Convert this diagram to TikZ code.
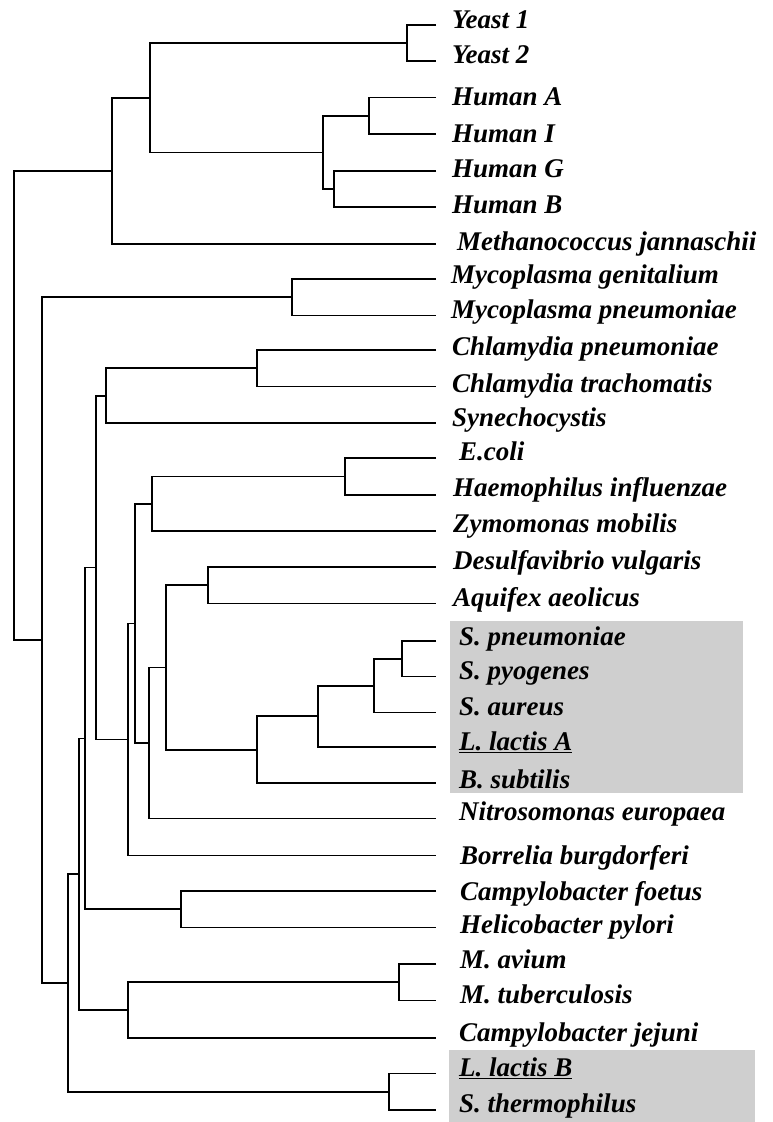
\documentclass[tikz,border=0pt]{standalone}
\usepackage{fontspec}
\setmainfont{Liberation Serif}
\begin{document}
\begin{tikzpicture}[x=1pt,y=-1pt,
  br/.style={line width=1.8pt},
  lab/.style={anchor=base west, inner sep=0pt, font=\fontsize{27}{30}\selectfont\bfseries\itshape},
  hlbox/.style={fill=black!19, draw=none}]
\useasboundingbox (0,0) rectangle (772,1122);
% highlight boxes
\fill[hlbox] (450,621) rectangle (743,793);
\fill[hlbox] (449,1050) rectangle (755,1122);
% leaf tips
\coordinate (l0) at (436,25);
\coordinate (l1) at (436,61);
\coordinate (l2) at (436,97.5);
\coordinate (l3) at (436,134);
\coordinate (l4) at (436,171);
\coordinate (l5) at (436,207);
\coordinate (l6) at (436,244);
\coordinate (l7) at (436,279);
\coordinate (l8) at (436,315.5);
\coordinate (l9) at (436,350);
\coordinate (l10) at (436,386.5);
\coordinate (l11) at (436,423);
\coordinate (l12) at (436,458);
\coordinate (l13) at (436,495);
\coordinate (l14) at (436,531);
\coordinate (l15) at (436,567);
\coordinate (l16) at (436,603.5);
\coordinate (l17) at (436,641);
\coordinate (l18) at (436,676.5);
\coordinate (l19) at (436,712.5);
\coordinate (l20) at (436,747);
\coordinate (l21) at (436,783);
\coordinate (l22) at (436,818.5);
\coordinate (l23) at (436,855.5);
\coordinate (l24) at (436,891);
\coordinate (l25) at (436,927.5);
\coordinate (l26) at (436,964);
\coordinate (l27) at (436,1000.5);
\coordinate (l28) at (436,1038);
\coordinate (l29) at (436,1073.5);
\coordinate (l30) at (436,1110);
% labels
\node[lab] (t0) at (452,28) {Yeast 1};
\node[lab] (t1) at (452,63) {Yeast 2};
\node[lab] (t2) at (452,105.5) {Human A};
\node[lab] (t3) at (452,142) {Human I};
\node[lab] (t4) at (452,177) {Human G};
\node[lab] (t5) at (452,213) {Human B};
\node[lab] (t6) at (457,250) {Methanococcus jannaschii};
\node[lab] (t7) at (451,283) {Mycoplasma genitalium};
\node[lab] (t8) at (451,318.5) {Mycoplasma pneumoniae};
\node[lab] (t9) at (452,355) {Chlamydia pneumoniae};
\node[lab] (t10) at (452,392) {Chlamydia trachomatis};
\node[lab] (t11) at (452,426.5) {Synechocystis};
\node[lab] (t12) at (459,460) {E.coli};
\node[lab] (t13) at (453,496.5) {Haemophilus influenzae};
\node[lab] (t14) at (453,532) {Zymomonas mobilis};
\node[lab] (t15) at (453,569) {Desulfavibrio vulgaris};
\node[lab] (t16) at (453,606) {Aquifex aeolicus};
\node[lab] (t17) at (459,645) {S. pneumoniae};
\node[lab] (t18) at (459,679.5) {S. pyogenes};
\node[lab] (t19) at (459,715) {S. aureus};
\node[lab] (t20) at (459,750) {\underline{L. lactis A}};
\node[lab] (t21) at (459,788) {B. subtilis};
\node[lab] (t22) at (459,820.5) {Nitrosomonas europaea};
\node[lab] (t23) at (460,864.5) {Borrelia burgdorferi};
\node[lab] (t24) at (460,900) {Campylobacter foetus};
\node[lab] (t25) at (460,933.5) {Helicobacter pylori};
\node[lab] (t26) at (460,968.5) {M. avium};
\node[lab] (t27) at (460,1003) {M. tuberculosis};
\node[lab] (t28) at (459,1041) {Campylobacter jejuni};
\node[lab] (t29) at (459,1076.5) {\underline{L. lactis B}};
\node[lab] (t30) at (459,1112) {S. thermophilus};
% internal nodes
\coordinate (nY) at (407,43);
\coordinate (nHAI) at (369,115.75);
\coordinate (nHGB) at (334,189);
\coordinate (nH) at (323,152.4);
\coordinate (nYH) at (150,97.7);
\coordinate (nE) at (112,170.85);
\coordinate (nMyco) at (292,297.25);
\coordinate (nChl) at (257,368.25);
\coordinate (nCS) at (106,395.6);
\coordinate (nEH) at (345,476.5);
\coordinate (nEHZ) at (152,503.75);
\coordinate (nDA) at (208,585.25);
\coordinate (nSS) at (402,658.75);
\coordinate (nSSA) at (374,685.6);
\coordinate (nSSAL) at (318,716.3);
\coordinate (nFirm) at (257,749.65);
\coordinate (nDAF) at (166,667.45);
\coordinate (nDAFN) at (149,743);
\coordinate (nG) at (135,623.4);
\coordinate (nGB) at (128,739.45);
\coordinate (nCSG) at (96,567.5);
\coordinate (nCH) at (181,909.25);
\coordinate (nX) at (85,738.4);
\coordinate (nMM) at (399,982.25);
\coordinate (nMMC) at (128,1010.1);
\coordinate (nY2) at (79,874.25);
\coordinate (nLS) at (389,1091.75);
\coordinate (nZ) at (68,983);
\coordinate (nB) at (42,640.1);
\coordinate (nR) at (14,405.5);
% branches
\draw[br] (l0) -| (nY) |- (l1);
\draw[br] (l2) -| (nHAI) |- (l3);
\draw[br] (l4) -| (nHGB) |- (l5);
\draw[br] (nHAI) -| (nH) |- (nHGB);
\draw[br] (nY) -| (nYH) |- (nH);
\draw[br] (nYH) -| (nE) |- (l6);
\draw[br] (l7) -| (nMyco) |- (l8);
\draw[br] (l9) -| (nChl) |- (l10);
\draw[br] (nChl) -| (nCS) |- (l11);
\draw[br] (l12) -| (nEH) |- (l13);
\draw[br] (nEH) -| (nEHZ) |- (l14);
\draw[br] (l15) -| (nDA) |- (l16);
\draw[br] (l17) -| (nSS) |- (l18);
\draw[br] (nSS) -| (nSSA) |- (l19);
\draw[br] (nSSA) -| (nSSAL) |- (l20);
\draw[br] (nSSAL) -| (nFirm) |- (l21);
\draw[br] (nDA) -| (nDAF) |- (nFirm);
\draw[br] (nDAF) -| (nDAFN) |- (l22);
\draw[br] (nEHZ) -| (nG) |- (nDAFN);
\draw[br] (nG) -| (nGB) |- (l23);
\draw[br] (nCS) -| (nCSG) |- (nGB);
\draw[br] (l24) -| (nCH) |- (l25);
\draw[br] (nCSG) -| (nX) |- (nCH);
\draw[br] (l26) -| (nMM) |- (l27);
\draw[br] (nMM) -| (nMMC) |- (l28);
\draw[br] (nX) -| (nY2) |- (nMMC);
\draw[br] (l29) -| (nLS) |- (l30);
\draw[br] (nY2) -| (nZ) |- (nLS);
\draw[br] (nMyco) -| (nB) |- (nZ);
\draw[br] (nE) -| (nR) |- (nB);
\end{tikzpicture}
\end{document}
